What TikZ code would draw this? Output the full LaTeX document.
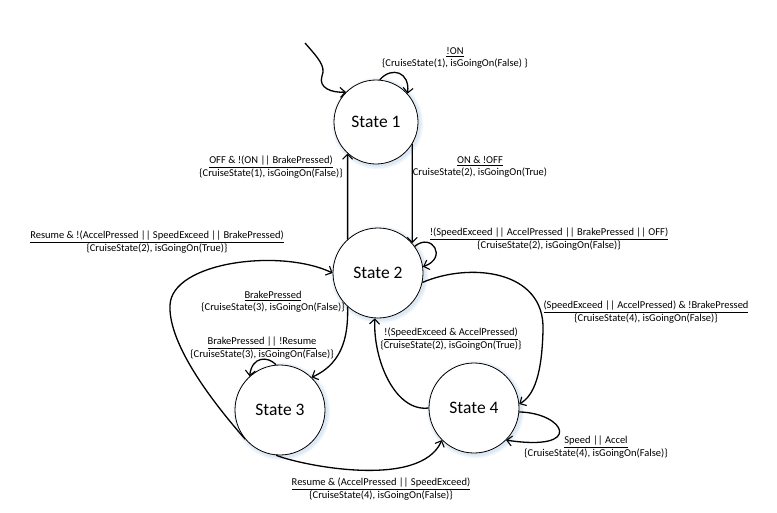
\documentclass[tikz,border=0pt]{standalone}
\usepackage{fontspec}
\setmainfont{Carlito}
\usetikzlibrary{arrows.meta,backgrounds}

\tikzset{
  state/.style={circle, draw, line width=0.8pt, inner sep=0pt, minimum size=90pt,
    fill=white, font=\fontsize{17.5}{20}\selectfont},
  trans/.style={line width=1.3pt,
    -{Straight Barb[length=5pt,width=10pt,line width=1.1pt]}},
  lbl/.style={align=center, inner sep=0pt, font=\fontsize{10.5}{12.5}\selectfont},
  glow/.style={fill=cyan!50!blue, opacity=0.05},
}

\begin{document}
\begin{tikzpicture}[x=1pt,y=-1pt]
\useasboundingbox (0,0) rectangle (777,512);

% states
\node[state, minimum size=84pt] (s1) at (376,122) {State 1};
\node[state] (s2) at (378,273) {State 2};
\node[state] (s3) at (280,410) {State 3};
\node[state] (s4) at (474,408) {State 4};

% page and soft glow behind the states
\begin{scope}[on background layer]
  \fill[white] (0,0) rectangle (777,512);
  \foreach \s/\r in {s1/42,s2/45,s3/45,s4/45}{
    \foreach \k in {1,2,3}{
      \fill[glow] ([shift={(1.5,1.5)}]\s.center) circle[radius=\r pt+\k*1.2pt];
    }
  }
\end{scope}

% initial transition
\coordinate (init) at (305,43);
\draw[trans] (init) .. controls (318,58) and (326,66) .. (322,76)
  .. controls (318,88) and (332,93) .. (s1.135);

% transitions
\draw[trans] (s1.85) .. controls (392,66) and (410,72) .. (s1.42);
\draw[trans] (s1.-31) -- (s2.41);
\draw[trans] (s2.132) -- (s1.228);
\draw[trans] (s2.36) .. controls (432,232) and (448,258) .. (s2.8);
\draw[trans] (s3.220) .. controls (215,405) and (168,345) .. (170,305)
  .. controls (172,262) and (280,248) .. (s2.180);
\draw[trans] (s2.228) .. controls (348,330) and (346,362) .. (s3.46);
\draw[trans] (s3.95) .. controls (268,356) and (252,356) .. (s3.132);
\draw[trans] (s4.180) .. controls (395,412) and (373,360) .. (s2.266);
\draw[trans] (s2.-12) .. controls (470,262) and (545,270) .. (543,330)
  .. controls (542,372) and (535,395) .. (s4.5);
\draw[trans] (s4.-5) .. controls (565,413) and (585,452) .. (s4.-45);
\draw[trans] (s3.-95) .. controls (300,465) and (420,490) .. (s4.-135);

% transition labels
\node[lbl] (l1) at (455,58) {\underline{!ON}\\\{CruiseState(1), isGoingOn(False) \}};
\node[lbl] (l2) at (271,167) {\underline{OFF \& !(ON || BrakePressed)}\\\{CruiseState(1), isGoingOn(False)\}};
\node[lbl] (l3) at (480,167) {\underline{ON \& !OFF}\\CruiseState(2), isGoingOn(True)};
\node[lbl] (l4) at (157,242) {\underline{Resume \& !(AccelPressed || SpeedExceed || BrakePressed)}\\\{CruiseState(2), isGoingOn(True)\}};
\node[lbl] (l5) at (549,239) {\underline{!(SpeedExceed || AccelPressed || BrakePressed || OFF)}\\\{CruiseState(2), isGoingOn(False)\}};
\node[lbl] (l6) at (273,302) {\underline{BrakePressed}\\\{CruiseState(3), isGoingOn(False)\}};
\node[lbl] (l7) at (262,348) {\underline{BrakePressed || !Resume}\\\{CruiseState(3), isGoingOn(False)\}};
\node[lbl] (l8) at (646,312) {\underline{(SpeedExceed || AccelPressed) \& !BrakePressed}\\\{CruiseState(4), isGoingOn(False)\}};
\node[lbl] (l9) at (451,339) {\underline{!(SpeedExceed \& AccelPressed)}\\\{CruiseState(2), isGoingOn(True)\}};
\node[lbl] (l10) at (596,447) {\underline{Speed || Accel}\\\{CruiseState(4), isGoingOn(False)\}};
\node[lbl] (l11) at (381,489) {\underline{Resume \& (AccelPressed || SpeedExceed)}\\\{CruiseState(4), isGoingOn(False)\}};
\end{tikzpicture}
\end{document}
